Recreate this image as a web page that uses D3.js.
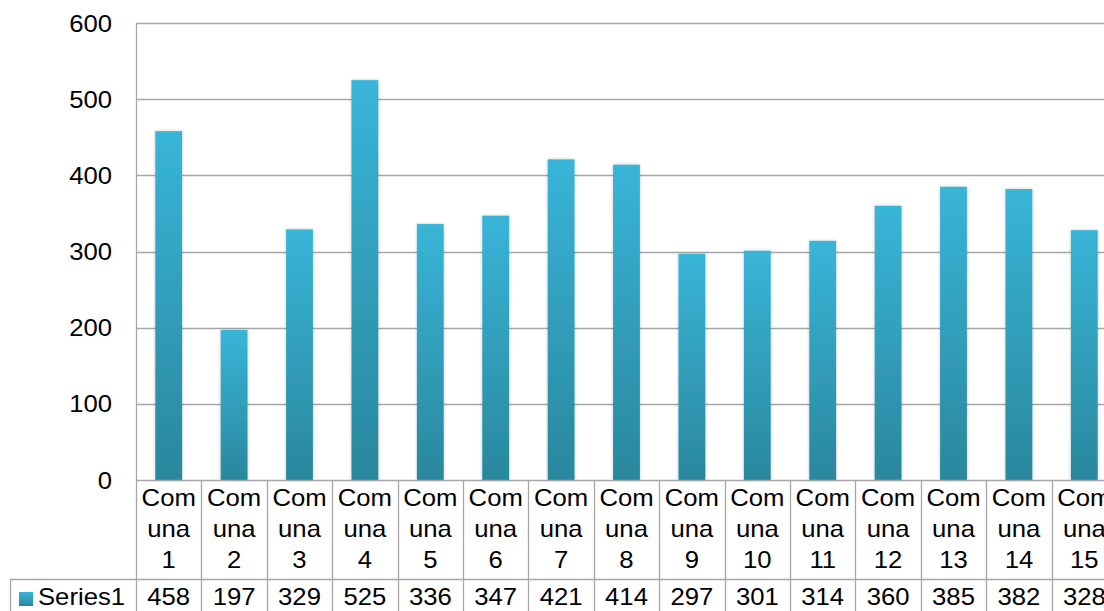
<!DOCTYPE html>
<html><head><meta charset="utf-8">
<script src="https://cdn.jsdelivr.net/npm/d3@7"></script>
<style>
html,body{margin:0;padding:0;background:#fff;overflow:hidden;width:1104px;height:611px;}
svg{display:block;font-family:"Liberation Sans",Arial,sans-serif;}
</style></head>
<body>
<script>
const categories = ["Comuna 1","Comuna 2","Comuna 3","Comuna 4","Comuna 5","Comuna 6","Comuna 7","Comuna 8","Comuna 9","Comuna 10","Comuna 11","Comuna 12","Comuna 13","Comuna 14","Comuna 15"];
const seriesName = "Series1";
const values = [458,197,329,525,336,347,421,414,297,301,314,360,385,382,328];
const yTicks = [0,100,200,300,400,500,600];

const W = 1130, H = 640;
const plotL = 136, plotR = 1117, plotT = 23, plotB = 480;
const FS = 24, SX = 1.07;
const svg = d3.select("body").append("svg").attr("width", W).attr("height", H);

const defs = svg.append("defs");
const grad = defs.append("linearGradient").attr("id","barGrad").attr("x1",0).attr("y1",0).attr("x2",0).attr("y2",1);
grad.append("stop").attr("offset","0%").attr("stop-color","#38b5d8");
grad.append("stop").attr("offset","100%").attr("stop-color","#2a879d");
const f = defs.append("filter").attr("id","shadow").attr("x","-30%").attr("y","-5%").attr("width","160%").attr("height","110%");
f.append("feDropShadow").attr("dx",0).attr("dy",0).attr("stdDeviation",1.6).attr("flood-color","#000").attr("flood-opacity",0.25);

const x = d3.scaleBand().domain(categories).range([plotL, plotR]).padding(0);
const y = d3.scaleLinear().domain([0, 600]).range([plotB, plotT]);
const gridC = "#a6a6a6";

function label(parent, tx, ty, t, anchor) {
  return parent.append("text")
    .attr("transform", `translate(${tx},${ty}) scale(${SX},1)`)
    .attr("text-anchor", anchor || "middle")
    .attr("font-size", FS).attr("fill", "#000").text(t);
}

// gridlines
svg.append("g").selectAll("line").data(yTicks.filter(t => t > 0)).join("line")
  .attr("x1", plotL).attr("x2", plotR + 20)
  .attr("y1", d => Math.round(y(d)) + 0.5).attr("y2", d => Math.round(y(d)) + 0.5)
  .attr("stroke", gridC).attr("stroke-width", 1.3);

// y axis labels (positions from the axis scale)
const gy = svg.append("g");
yTicks.forEach(t => label(gy, 112, y(t) + 8.5, t, "end"));

// axis vertical line
svg.append("line").attr("x1", plotL + 0.5).attr("x2", plotL + 0.5).attr("y1", y(600)).attr("y2", plotB)
  .attr("stroke", gridC).attr("stroke-width", 1.3);

// bars
const bw = x.bandwidth() * 0.41;
svg.append("g").selectAll("rect").data(values).join("rect")
  .attr("x", (d, i) => x(categories[i]) + (x.bandwidth() - bw) / 2)
  .attr("y", d => y(d))
  .attr("width", bw)
  .attr("height", d => plotB - y(d))
  .attr("fill", "url(#barGrad)")
  .attr("filter", "url(#shadow)");

// data table
const tableC = "#a6a6a6";
const rowSplit = 579, tableL = 10, tableBottom = 640;
const tg = svg.append("g");
tg.append("line").attr("x1", plotL).attr("x2", plotR + 20).attr("y1", plotB + 0.5).attr("y2", plotB + 0.5).attr("stroke", tableC).attr("stroke-width", 1.3);
tg.append("line").attr("x1", tableL).attr("x2", plotR + 20).attr("y1", rowSplit + 0.5).attr("y2", rowSplit + 0.5).attr("stroke", tableC).attr("stroke-width", 1.3);
tg.append("line").attr("x1", tableL + 0.5).attr("x2", tableL + 0.5).attr("y1", rowSplit).attr("y2", tableBottom).attr("stroke", tableC).attr("stroke-width", 1.3);
const edges = categories.map(c => x(c)).concat([plotR]);
tg.selectAll("line.v").data(edges).join("line").attr("class", "v")
  .attr("x1", d => Math.round(d) + 0.5).attr("x2", d => Math.round(d) + 0.5)
  .attr("y1", plotB).attr("y2", tableBottom).attr("stroke", tableC).attr("stroke-width", 1.3);

// category labels wrapped within their column
categories.forEach((c, i) => {
  const cx = x(c) + x.bandwidth() / 2;
  const word = c.replace(" ", "");
  const lines = [word.slice(0, 3), word.slice(3, 6), word.slice(6)];
  lines.forEach((t, j) => label(tg, cx, 506 + j * 31, t));
  label(tg, cx, 605, values[i]);
});

// legend key in table
tg.append("rect").attr("x", 19).attr("y", 592).attr("width", 14).attr("height", 14).attr("fill", "url(#barGrad)");
label(tg, 38, 605, seriesName, "start");
</script>
</body></html>
